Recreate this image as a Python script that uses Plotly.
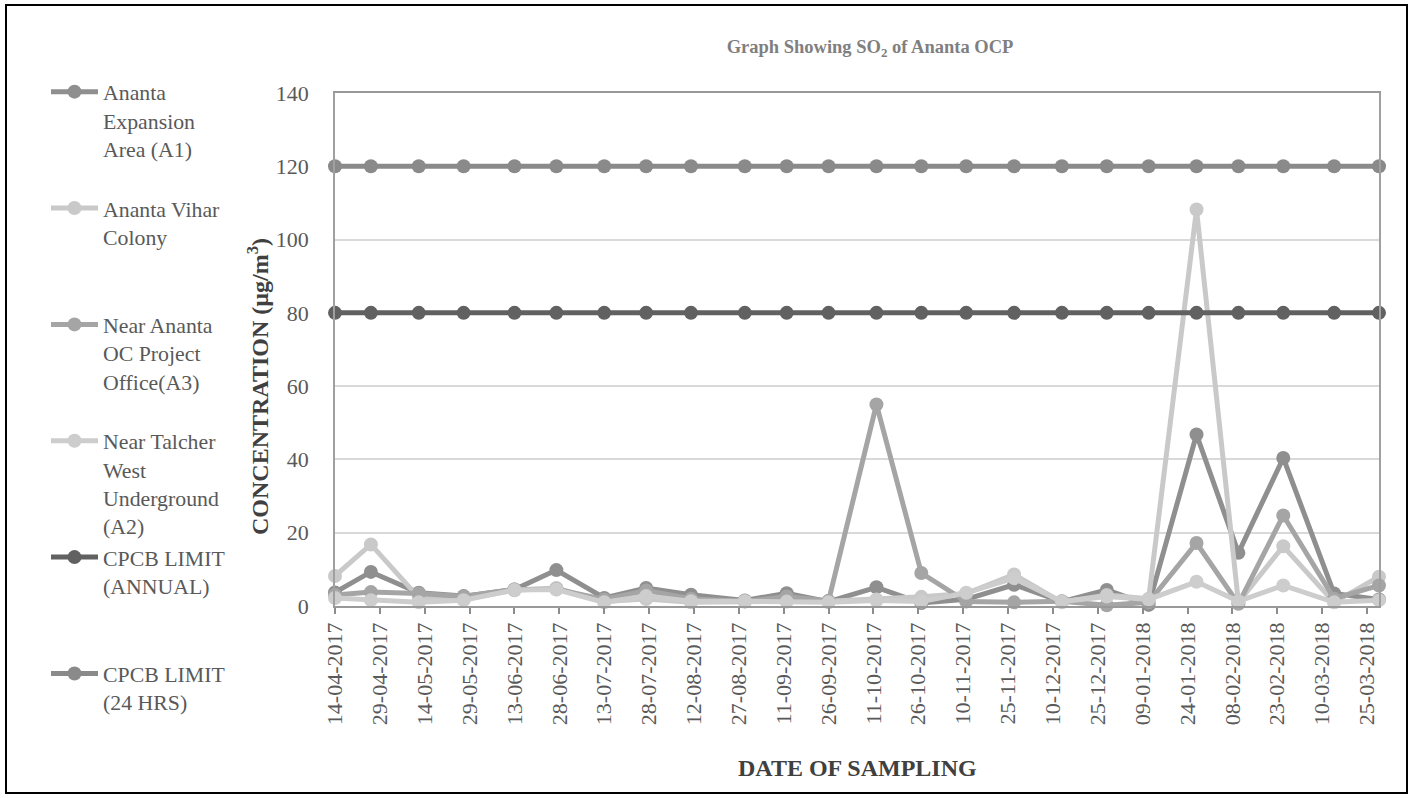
import pandas as pd
import plotly.graph_objects as go

# Sampling dates (dd-mm-yyyy) and SO2 concentrations in µg/m³
sample_dates = [
    "14-04-2017", "26-04-2017", "12-05-2017", "27-05-2017", "13-06-2017", "27-06-2017",
    "13-07-2017", "27-07-2017", "11-08-2017", "29-08-2017", "12-09-2017", "26-09-2017",
    "12-10-2017", "27-10-2017", "11-11-2017", "27-11-2017", "13-12-2017", "28-12-2017",
    "11-01-2018", "27-01-2018", "10-02-2018", "25-02-2018", "14-03-2018", "29-03-2018",
]

expansion_a1 = [3.7, 9.3, 3.6, 2.7, 4.5, 9.8, 2.2, 4.9, 3.1, 1.5, 3.5, 1.2,
                5.1, 0.8, 1.8, 5.8, 1.2, 4.4, 0.3, 46.8, 14.5, 40.4, 3.4, 1.8]
vihar_colony = [8.2, 16.8, 2.3, 1.8, 4.3, 4.9, 1.2, 1.9, 1.0, 1.3, 1.3, 1.3,
                1.8, 2.5, 3.4, 8.6, 1.0, 3.0, 2.0, 108.2, 1.0, 16.3, 1.0, 8.0]
oc_office_a3 = [3.0, 3.8, 3.4, 2.6, 4.5, 4.6, 1.8, 4.2, 2.0, 1.2, 2.6, 1.4,
                55.0, 9.0, 1.2, 1.0, 1.3, 0.2, 1.0, 17.2, 0.6, 24.7, 2.0, 5.6]
talcher_a2 = [2.2, 1.6, 1.0, 1.6, 4.4, 4.5, 1.0, 2.7, 1.3, 1.3, 1.2, 1.0,
              1.5, 1.2, 3.6, 7.6, 1.2, 2.6, 1.8, 6.6, 1.3, 5.6, 1.0, 1.6]
cpcb_annual = [80] * len(sample_dates)
cpcb_24hrs = [120] * len(sample_dates)

tick_labels = [
    "14-04-2017", "29-04-2017", "14-05-2017", "29-05-2017", "13-06-2017", "28-06-2017",
    "13-07-2017", "28-07-2017", "12-08-2017", "27-08-2017", "11-09-2017", "26-09-2017",
    "11-10-2017", "26-10-2017", "10-11-2017", "25-11-2017", "10-12-2017", "25-12-2017",
    "09-01-2018", "24-01-2018", "08-02-2018", "23-02-2018", "10-03-2018", "25-03-2018",
]

x = pd.to_datetime(sample_dates, format="%d-%m-%Y")
tick_vals = pd.to_datetime(tick_labels, format="%d-%m-%Y")

FONT = "Liberation Serif"
TEXT = "#595959"

series = [
    ("Ananta<br>Expansion<br>Area (A1)<br> ", expansion_a1, "#8f8f8f"),
    ("Ananta Vihar<br>Colony<br> <br> ", vihar_colony, "#c9c9c9"),
    ("Near Ananta<br>OC Project<br>Office(A3)<br> ", oc_office_a3, "#a5a5a5"),
    ("Near Talcher<br>West<br>Underground<br>(A2)", talcher_a2, "#cdcdcd"),
    ("CPCB LIMIT<br>(ANNUAL)<br> <br> ", cpcb_annual, "#616161"),
    ("CPCB LIMIT<br>(24 HRS)", cpcb_24hrs, "#8a8a8a"),
]

fig = go.Figure()
for name, vals, color in series:
    fig.add_trace(go.Scatter(
        x=x, y=vals, name=name, mode="lines+markers",
        line=dict(color=color, width=5),
        marker=dict(color=color, size=14),
        cliponaxis=False,
    ))

# plot area in pixels
L, R, T, B = 335, 1379, 93, 606
W, H = R - L, B - T
FW, FH = 1414, 798


def px(v):
    return (v - L) / W


def py(v):
    return (B - v) / H


fig.update_layout(
    width=FW, height=FH,
    margin=dict(l=L, r=FW - R, t=T, b=FH - B, autoexpand=False),
    paper_bgcolor="white", plot_bgcolor="white",
    font=dict(family=FONT, color=TEXT, size=22),
    title=dict(
        text="<b>Graph Showing SO<sub>2</sub> of Ananta OCP</b>",
        x=870 / FW, xref="container", xanchor="center",
        y=1 - 47 / FH, yref="container", yanchor="middle",
        font=dict(family=FONT, size=18.5, color="#7f7f7f"),
    ),
    showlegend=True,
    legend=dict(
        x=px(46), xanchor="left",
        y=py(71), yanchor="top",
        maxheight=760,
        valign="top", itemwidth=47, tracegroupgap=0,
        font=dict(family=FONT, size=21.8, color=TEXT),
        bgcolor="rgba(0,0,0,0)",
    ),
    xaxis=dict(
        type="date",
        range=[x[0], x[-1]],
        tickvals=tick_vals, ticktext=tick_labels, tickangle=-90,
        ticks="outside", ticklen=6, tickwidth=1.5, tickcolor="#8c8c8c",
        showline=True, linecolor="#999999", linewidth=1.5, mirror=True,
        showgrid=False, zeroline=False, automargin=False,
        tickfont=dict(family=FONT, size=22, color=TEXT),
    ),
    yaxis=dict(
        range=[0, 140], dtick=20,
        showline=True, linecolor="#a0a0a0", linewidth=1.5, mirror=True,
        showgrid=True, gridcolor="#d9d9d9", gridwidth=1.5,
        zeroline=False, ticks="", ticklabelstandoff=20, automargin=False,
        tickfont=dict(family=FONT, size=22, color=TEXT),
    ),
    annotations=[
        dict(text="<b>CONCENTRATION (µg/m<sup>3</sup>)</b>", textangle=-90,
             xref="paper", yref="paper", x=px(258), y=py(387),
             xanchor="center", yanchor="middle", showarrow=False,
             font=dict(family=FONT, size=24, color="#404040")),
        dict(text="<b>DATE OF SAMPLING</b>",
             xref="paper", yref="paper", x=px(857), y=py(768),
             xanchor="center", yanchor="middle", showarrow=False,
             font=dict(family=FONT, size=24, color="#404040")),
    ],
    shapes=[
        dict(type="rect", xref="paper", yref="paper",
             x0=px(6), x1=px(1407), y0=py(5), y1=py(793),
             line=dict(color="black", width=2), fillcolor="rgba(0,0,0,0)",
             layer="below"),
    ],
)

fig.write_html("out.html")
